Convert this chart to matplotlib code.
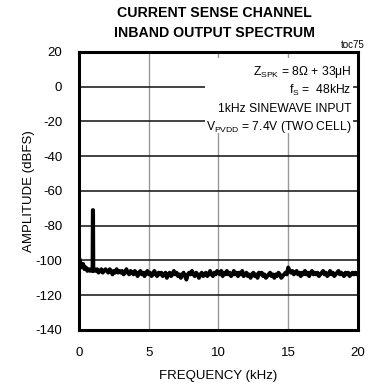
import matplotlib
matplotlib.use('Agg')
import matplotlib.pyplot as plt
from matplotlib.patches import Rectangle

plt.rcParams['font.family'] = ['Liberation Sans', 'DejaVu Sans']
plt.rcParams['mathtext.fontset'] = 'custom'
plt.rcParams['mathtext.rm'] = 'Liberation Sans'
plt.rcParams['mathtext.it'] = 'Liberation Sans'
plt.rcParams['axes.unicode_minus'] = False

# spectrum, 0.1 kHz steps with the 1 kHz tone resolved more finely
freq_khz = [
    0.0, 0.1, 0.2, 0.3, 0.4, 0.5, 0.6, 0.7, 0.8, 0.9,
    0.97, 0.99, 1.0, 1.01, 1.03,
    1.1, 1.2, 1.3, 1.4, 1.5, 1.6, 1.7, 1.8, 1.9,
] + [round(2.0 + 0.1 * i, 1) for i in range(181)]
amplitude_dbfs = [
    -98, -101, -104, -102, -105, -104, -106, -105, -106, -105,
    -106, -71, -71, -71, -106,
    -105, -106, -105, -107, -106, -105, -107, -106, -105,
    -106, -107, -105, -106, -108, -106, -107, -105, -107, -106,
    -107, -106, -108, -107, -105, -107, -108, -106, -107, -108,
    -106, -107, -109, -107, -106, -108, -107, -109, -107, -106,
    -108, -107, -109, -108, -106, -108, -109, -107, -108, -107,
    -109, -108, -107, -110, -108, -107, -109, -108, -106, -108,
    -107, -109, -108, -110, -108, -107, -109, -111, -108, -107,
    -108, -106, -108, -109, -107, -108, -110, -108, -107, -109,
    -108, -107, -109, -108, -106, -108, -109, -107, -108, -106,
    -107, -108, -106, -109, -107, -108, -106, -108, -107, -109,
    -108, -106, -108, -107, -109, -107, -108, -106, -109, -108,
    -107, -109, -108, -110, -108, -107, -109, -108, -110, -107,
    -108, -107, -109, -108, -110, -109, -108, -107, -109, -108,
    -110, -108, -109, -107, -108, -110, -109, -108, -107, -108,
    -104, -106, -107, -106, -108, -107, -106, -108, -107, -109,
    -107, -108, -106, -108, -107, -109, -107, -106, -108, -107,
    -108, -107, -109, -108, -107, -106, -108, -107, -109, -108,
    -106, -108, -107, -109, -108, -107, -106, -108, -107, -108,
    -109, -107, -108, -107, -109, -108, -107, -108, -107, -108,
    -107,
]

x_ticks = [0, 5, 10, 15, 20]
y_ticks = [20, 0, -20, -40, -60, -80, -100, -120, -140]

notes = [
    r'Z$_{\mathrm{SPK}}$ = 8Ω + 33μH',
    r'f$_{\mathrm{S}}$ =  48kHz',
    '1kHz SINEWAVE INPUT',
    r'V$_{\mathrm{PVDD}}$ = 7.4V (TWO CELL)',
]

fig = plt.figure(figsize=(3.7, 3.88), dpi=100)
ax = fig.add_axes([0.2135, 0.1495, 0.754, 0.7165])

ax.set_xlim(0, 20)
ax.set_ylim(-140, 20)
ax.set_xticks(x_ticks)
ax.set_yticks(y_ticks)
ax.tick_params(length=0, labelsize=9.5, pad=12)

for x in x_ticks[1:-1]:
    ax.axvline(x, color='#999999', lw=1.0, zorder=1)
for y in y_ticks[1:-1]:
    ax.axhline(y, color='#222222', lw=1.2, zorder=1)

ax.plot(freq_khz, amplitude_dbfs, color='black', lw=2.8, zorder=3)

# white box behind the condition notes
ax.add_patch(Rectangle((0.452, 0.708), 0.53, 0.27, transform=ax.transAxes,
                       facecolor='white', edgecolor='none', zorder=2))
for i, note in enumerate(notes):
    ax.text(0.978, 0.928 - i * 0.066, note, transform=ax.transAxes,
            ha='right', va='center', fontsize=8.7, zorder=4)

for s in ax.spines.values():
    s.set_linewidth(2.2)
    s.set_zorder(5)

ax.set_xlabel('FREQUENCY (kHz)', fontsize=9.5, labelpad=8)
ax.set_ylabel('AMPLITUDE (dBFS)', fontsize=9.5)
ax.yaxis.set_label_coords(-0.158, 0.5)

fig.text(0.58, 0.966, 'CURRENT SENSE CHANNEL', ha='center', va='center',
         fontsize=10.2, fontweight='bold')
fig.text(0.58, 0.915, 'INBAND OUTPUT SPECTRUM', ha='center', va='center',
         fontsize=10.2, fontweight='bold')
fig.text(0.985, 0.884, 'toc75', ha='right', va='center', fontsize=7)

fig.savefig('out.png', dpi=100)
